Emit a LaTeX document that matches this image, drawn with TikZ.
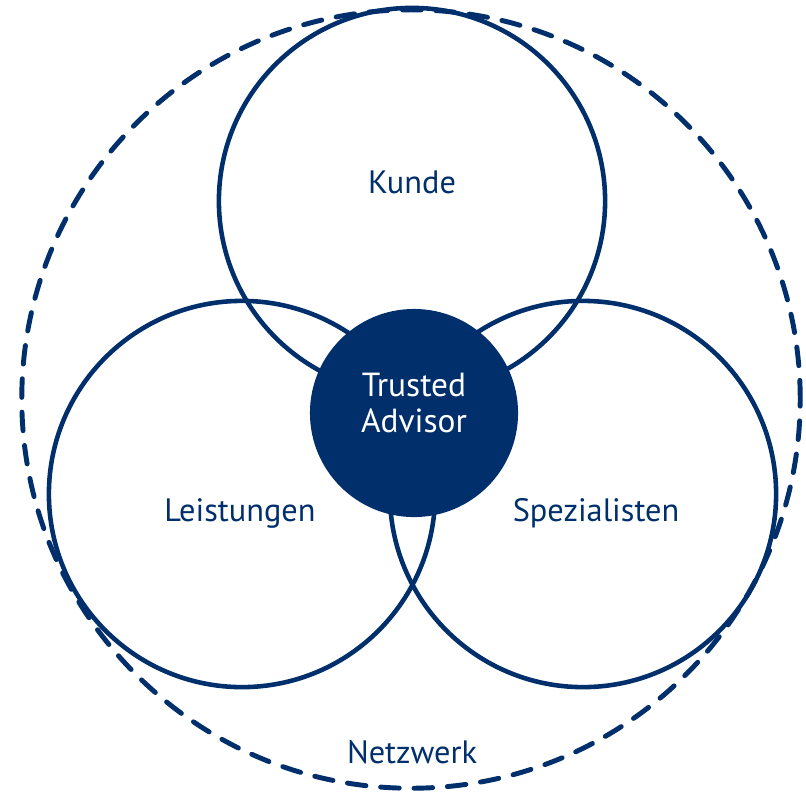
\documentclass[tikz,border=0pt]{standalone}
\usepackage{fontspec}
\setmainfont{PT Sans}
\definecolor{navy}{HTML}{002F6C}
\tikzset{
  ring/.style={circle, draw=navy, line width=1.3pt, minimum size=3.86cm, inner sep=0pt},
  label/.style={text=navy, font=\fontsize{9.2}{10.5}\selectfont}
}

\begin{document}
\begin{tikzpicture}[x=0.01cm, y=-0.01cm]
\useasboundingbox (0,0) rectangle (806,793);
% network
\node (netz) [circle, draw=navy, line width=1.4pt, dash pattern=on 5.3pt off 4.2pt, line cap=round, minimum size=7.78cm, inner sep=0pt] at (411,399) {};

% three circles
\node (kunde) [ring] at (412,201) {};
\node (leist) [ring] at (242,494) {};
\node (spez) [ring] at (583,494) {};

% center
\node (advisor) [circle, fill=navy, minimum size=2.08cm, inner sep=0pt] at (414,413) {};
\node [text=white, font=\fontsize{9.5}{10.5}\selectfont, align=center] at (414,403) {Trusted\\Advisor};

% labels
\node [label] at (412,182) {Kunde};
\node [label] at (240,513) {Leistungen};
\node [label] at (596,513) {Spezialisten};
\node [label] at (412,752) {Netzwerk};

\end{tikzpicture}
\end{document}
